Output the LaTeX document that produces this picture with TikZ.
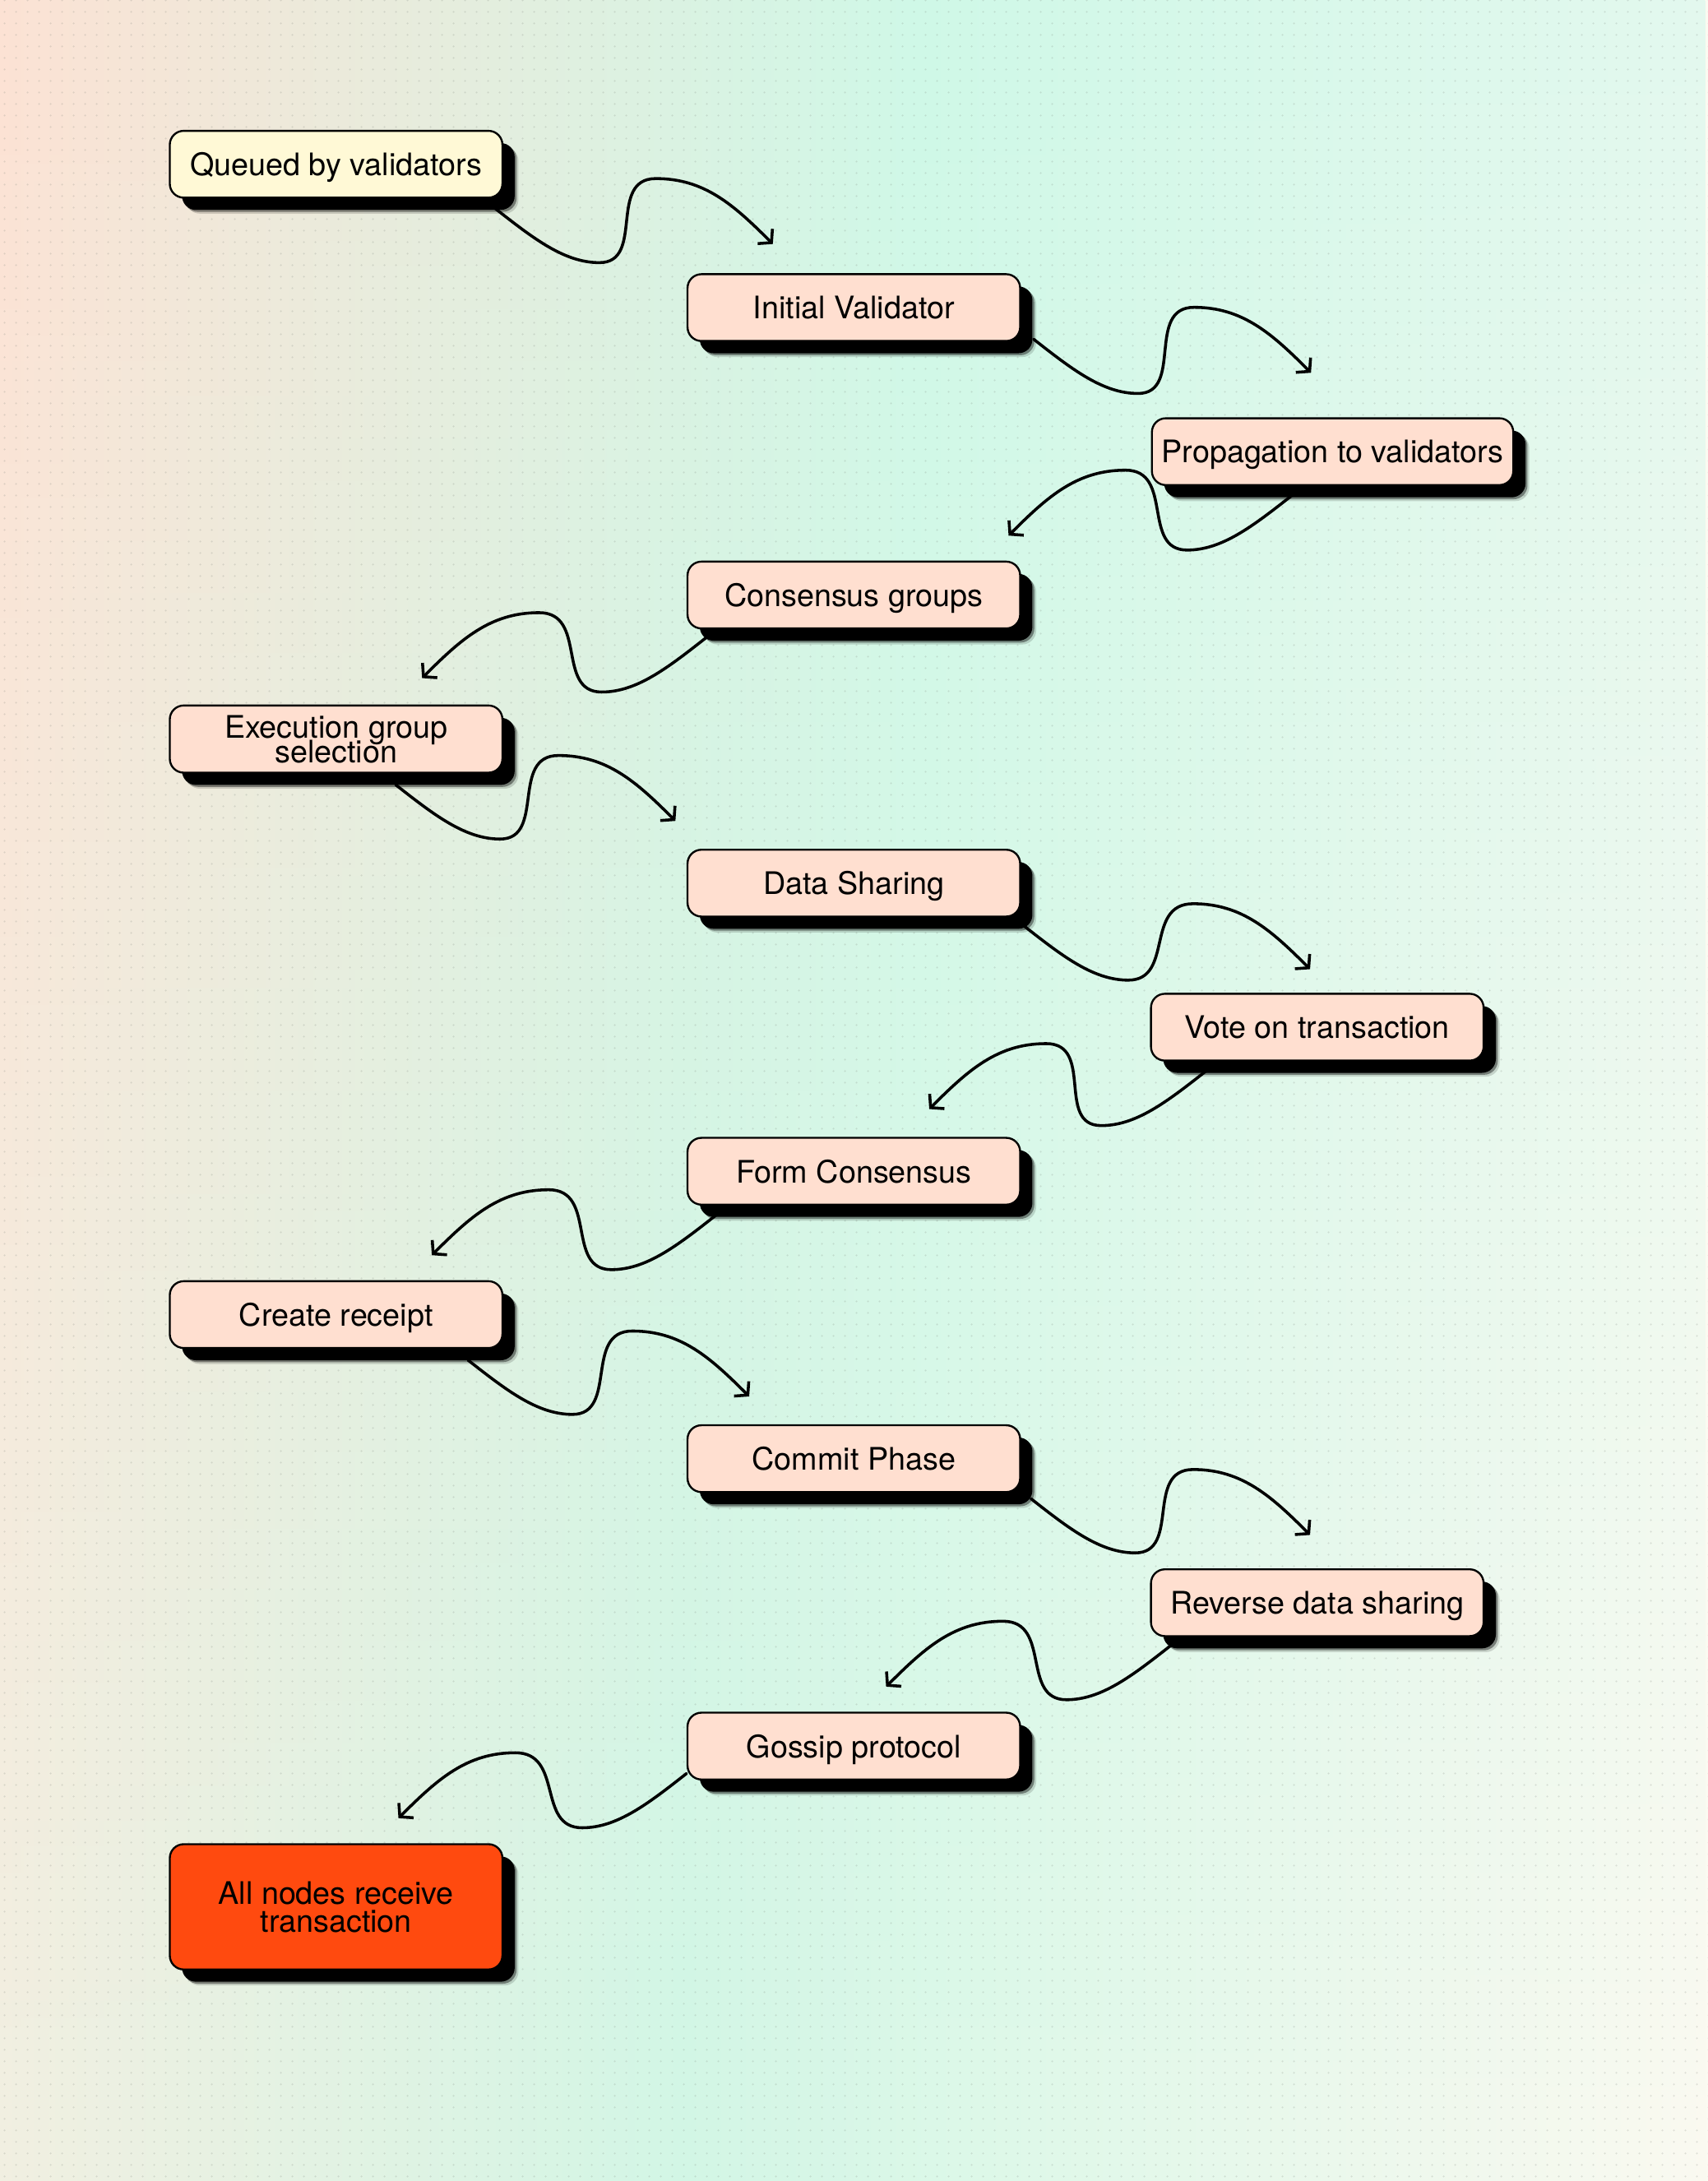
\documentclass[tikz,border=0pt]{standalone}
\usepackage{fontspec}
\setmainfont{TeX Gyre Heros}
\usetikzlibrary{arrows.meta,calc,shadows,fadings,patterns.meta}
\definecolor{bgPeach}{HTML}{FDE2D4}
\definecolor{bgMint}{HTML}{CFF8E7}
\definecolor{bgMintLight}{HTML}{E3F8EE}
\definecolor{bgPale}{HTML}{F1F0E2}
\definecolor{bgMintB}{HTML}{D2F7E6}
\definecolor{bgCream}{HTML}{FBFAF1}
\definecolor{boxfill}{HTML}{FFDFD0}
\definecolor{startfill}{HTML}{FFF9D6}
\definecolor{endfill}{HTML}{FF4A0F}
\definecolor{dotcol}{HTML}{7A8078}
\pgfdeclarehorizontalshading{bgtopsh}{100bp}{color(0bp)=(bgPeach); color(25bp)=(bgPeach); color(52bp)=(bgMint); color(75bp)=(bgMintLight); color(100bp)=(bgMintLight)}
\pgfdeclarehorizontalshading{bgbotsh}{100bp}{color(0bp)=(bgPale); color(25bp)=(bgPale); color(45bp)=(bgMintB); color(75bp)=(bgCream); color(100bp)=(bgCream)}
\tikzfading[name=topfade, top color=transparent!0, bottom color=transparent!100]
\tikzdeclarepattern{name=bgdots, type=uncolored,
  bounding box={(0pt,0pt) and (8.3pt,8.3pt)}, tile size={(8.3pt,8.3pt)},
  code={\pgfpathcircle{\pgfpoint{4.15pt}{4.15pt}}{0.75pt}\pgfusepath{fill}}}
\pgfdeclarelayer{bglayer}
\pgfdeclarelayer{lines}
\pgfsetlayers{bglayer,lines,main}
\newcommand\boxfont{\fontsize{22.3}{18}\selectfont}
\newcommand\lastboxfont{\fontsize{22.3}{20}\selectfont}
\tikzset{
  boxshadow/.style={
    drop shadow={shadow xshift=11.5pt, shadow yshift=-11.5pt, fill=black, opacity=0.15},
    drop shadow={shadow xshift=10.2pt, shadow yshift=-10.2pt, fill=black, opacity=0.4},
    drop shadow={shadow xshift=8.8pt, shadow yshift=-8.8pt, fill=black, opacity=1}},
  box/.style={draw=black, line width=1.4pt, rounded corners=10pt, fill=boxfill,
    minimum width=239pt, minimum height=48pt, inner sep=7pt, align=center,
    text depth=0pt, font=\boxfont, boxshadow},
  startbox/.style={box, fill=startfill},
  finalbox/.style={box, fill=endfill, minimum height=90pt, font=\lastboxfont},
  conn/.style={line width=2.1pt, line cap=round, -{Straight Barb[length=6.5pt,width=15pt]}}
}
\newcommand\wavr[2]{\draw[conn] (#1) .. controls +(28,22) and +(-25,0) .. ($(#1)+(75,39)$) .. controls +(33,0) and +(-35,0) .. ($(#2)+(-84,-47)$) .. controls +(35,0) and +(-28,-28) .. (#2);}
\newcommand\wavl[2]{\draw[conn] (#1) .. controls +(-28,22) and +(25,0) .. ($(#1)+(-75,39)$) .. controls +(-33,0) and +(35,0) .. ($(#2)+(84,-47)$) .. controls +(-35,0) and +(28,-28) .. (#2);}
\begin{document}
\lineskiplimit=-60pt\relax
\lineskip=0pt\relax
\begin{tikzpicture}[x=1pt,y=-1pt]
\useasboundingbox (0,0) rectangle (1227,1567);
\begin{pgfonlayer}{bglayer}
  \shade[shading=bgbotsh] (0,0) rectangle (1227,1567);
  \shade[shading=bgtopsh, path fading=topfade] (0,0) rectangle (1227,1567);
  \fill[pattern=bgdots, pattern color=dotcol, opacity=0.22] (0,0) rectangle (1227,1567);
\end{pgfonlayer}

\node[startbox] (q)    at (241.5,118)   {Queued by validators};
\node[box]      (iv)   at (613.5,221)   {Initial Validator};
\node[box]      (prop) at (957.5,324.5) {Propagation to validators};
\node[box]      (cg)   at (613.5,427.5) {Consensus groups};
\node[box]      (ex)   at (241.5,531)   {Execution group\\selection};
\node[box]      (ds)   at (613.5,634.5) {Data Sharing};
\node[box]      (vote) at (946.5,738)   {Vote on transaction};
\node[box]      (fc)   at (613.5,841.5) {Form Consensus};
\node[box]      (cr)   at (241.5,944.5) {Create receipt};
\node[box]      (cp)   at (613.5,1048)  {Commit Phase};
\node[box]      (rds)  at (946.5,1151.5){Reverse data sharing};
\node[box]      (gp)   at (613.5,1254.5){Gossip protocol};
\node[finalbox] (all)  at (241.5,1370)  {All nodes receive\\transaction};

\coordinate (s1) at ($(q.south east)+(-6,7)$);
\coordinate (e1) at ($(iv.north west)+(62,-21)$);
\coordinate (s2) at ($(iv.south east)+(9,-2)$);
\coordinate (e2) at ($(prop.north west)+(115,-32)$);
\coordinate (s3) at ($(prop.south west)+(101,7)$);
\coordinate (e3) at ($(cg.north east)+(-9,-18)$);
\coordinate (s4) at ($(cg.south west)+(14,6)$);
\coordinate (e4) at ($(ex.north west)+(182,-19)$);
\coordinate (s5) at ($(ex.south west)+(163,8)$);
\coordinate (e5) at ($(ds.north west)+(-8,-20)$);
\coordinate (s6) at ($(ds.south east)+(2,6)$);
\coordinate (e6) at ($(vote.north west)+(115,-17)$);
\coordinate (s7) at ($(vote.south west)+(40,7)$);
\coordinate (e7) at ($(fc.north east)+(-66,-20)$);
\coordinate (s8) at ($(fc.south west)+(21,7)$);
\coordinate (e8) at ($(cr.north west)+(189,-18)$);
\coordinate (s9) at ($(cr.south west)+(215,8)$);
\coordinate (e9) at ($(cp.north west)+(45,-20)$);
\coordinate (s10) at ($(cp.south east)+(7,4)$);
\coordinate (e10) at ($(rds.north west)+(115,-24)$);
\coordinate (s11) at ($(rds.south west)+(15,6)$);
\coordinate (e11) at ($(gp.north east)+(-97,-18)$);
\coordinate (s12) at ($(gp.south west)+(0,-5)$);
\coordinate (e12) at ($(all.north west)+(165,-18)$);

\begin{pgfonlayer}{lines}
  \wavr{s1}{e1}
  \wavr{s2}{e2}
  \wavl{s3}{e3}
  \wavl{s4}{e4}
  \wavr{s5}{e5}
  \wavr{s6}{e6}
  \wavl{s7}{e7}
  \wavl{s8}{e8}
  \wavr{s9}{e9}
  \wavr{s10}{e10}
  \wavl{s11}{e11}
  \wavl{s12}{e12}
\end{pgfonlayer}
\end{tikzpicture}
\end{document}
